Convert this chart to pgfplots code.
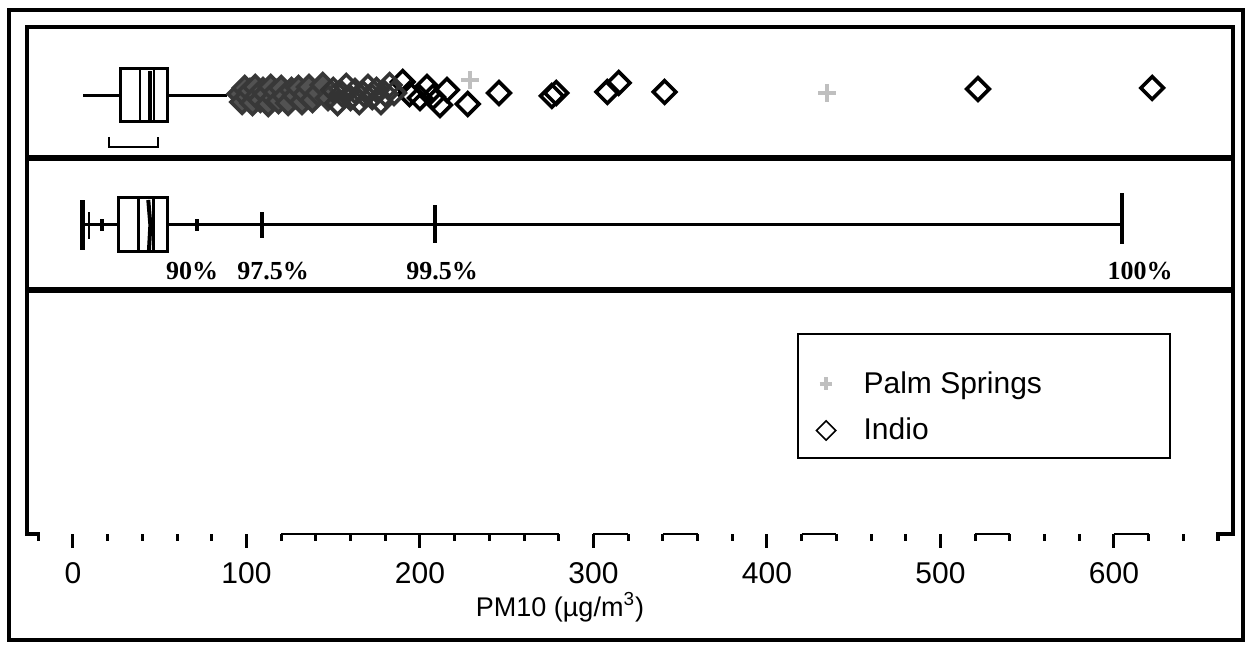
\documentclass[border=0pt]{standalone}
\usepackage{pgfplots}
\pgfplotsset{compat=1.18}
\usepackage{fontspec}
\setmainfont{Liberation Sans}
\newfontfamily\pctfont{Liberation Serif}

\begin{document}
\begin{tikzpicture}
\begin{axis}[
  scale only axis,
  width=603pt, height=253.5pt,
  xmin=-26.5, xmax=668.6,
  ymin=0, ymax=507,
  clip=false,
  axis x line*=bottom, axis y line=none,
  x axis line style={draw=none},
  xtick={0,100,...,600},
  minor xtick={-20,20,40,60,80,120,140,160,180,220,240,260,280,320,340,360,380,420,440,460,480,520,540,560,580,620,640,660},
  tick align=outside,
  major tick length=7pt, minor tick length=3.5pt,
  tick style={black, line width=1.5pt},
  /pgf/number format/assume math mode=true,
  xticklabel style={font=\fontsize{15}{18}\selectfont, yshift=-4pt},
  legend cell align=left,
  legend style={draw=none, fill=none, at={(axis cs:424.8,171)}, anchor=north west,
    font=\fontsize{15}{18}\selectfont, row sep=7pt},
]

% ---------- outliers (top panel) ----------
\addplot[only marks, mark=+, color=black!25, mark size=4.5pt, line width=2.4pt,
  legend image code/.code={\draw[mark=+, black!25, line width=1.8pt, mark size=3.2pt] plot coordinates {(0.3cm,0cm)};}]
  coordinates {(228.8,454) (434.6,441)};
\addlegendentry{\hspace{12pt}Palm Springs}

\addplot[only marks, mark=square, mark options={rotate=45}, color=black, mark size=4pt, line width=1.8pt,
  legend image code/.code={\draw[mark=square, mark options={rotate=45}, black, line width=0.8pt, mark size=3.4pt] plot coordinates {(0.3cm,0cm)};}]
  coordinates {(190,452) (194,440) (200,436) (204,447) (207.5,437) (211.5,429) (215.5,444) (227.5,430)
               (245.5,441) (276,438) (278.5,441) (308,442) (314.5,451) (341,442) (521.6,445) (622,446)};
\addlegendentry{\hspace{12pt}Indio}

% dense run of Indio values between ~95 and ~150
\addplot[only marks, forget plot, mark=square*, mark options={rotate=45, draw=black!78, fill=black!68}, mark size=4pt, line width=1.8pt]
  coordinates {(96,440) (97.5,432) (99,446) (100.5,437) (102,443) (103.5,431) (105,447) (106.5,438) (108,434)
               (109.5,444) (111,440) (112.5,430) (114,447) (115.5,436) (117,442) (118.5,433) (120,446)
               (122,438) (124,431) (126,444) (128,438) (130,446) (132,432) (134,440) (136,447) (138,434)
               (141,441) (144,449) (147,436)};
% sparser run between ~150 and ~185
\addplot[only marks, forget plot, mark=square, mark options={rotate=45}, color=black!80, mark size=4pt, line width=1.8pt]
  coordinates {(150,444) (152.5,431) (155,440) (157.5,448) (160,436) (162.5,443) (165,432) (167.5,440)
               (170,447) (172.5,437) (175,444) (177.5,432) (180,440) (182.5,449) (185,441)};

% ---------- box plot (top panel) ----------
\addplot[black, line width=1.5pt, forget plot] coordinates {(5.8,438) (27.1,438)};
\addplot[black, line width=1.5pt, forget plot] coordinates {(54.2,438) (89,438)};
\addplot[black, line width=1.5pt, forget plot, fill=white] coordinates {(27.1,412) (54.2,412) (54.2,465) (27.1,465)} -- cycle;
\addplot[black, line width=1.2pt, forget plot] coordinates {(38.6,412) (38.6,465)};
\addplot[black, line width=1.2pt, forget plot] coordinates {(46.7,412) (46.7,465)};
\addplot[black, line width=2pt, forget plot] coordinates {(45.4,461) (44.2,461) (44.2,416) (45.4,416)};
\addplot[black, line width=1.2pt, forget plot] coordinates {(20.7,397) (20.7,387) (49,387) (49,397)};

% ---------- percentile plot (middle panel) ----------
\addplot[black, line width=1.5pt, forget plot] coordinates {(5.8,309) (27.1,309)};
\addplot[black, line width=1.5pt, forget plot] coordinates {(54.2,309) (604.6,309)};
\addplot[black, line width=1.5pt, forget plot] coordinates {(26.5,282) (54.2,282) (54.2,336) (26.5,336)} -- cycle;
\addplot[black, line width=1.3pt, forget plot] coordinates {(37.6,282) (37.6,336)};
\addplot[black, line width=1.2pt, forget plot] coordinates {(46.4,282) (46.4,336)};
\addplot[black, line width=2pt, forget plot] coordinates {(43.4,334) (44.6,309) (43.8,284)};
\addplot[black, line width=2.5pt, forget plot] coordinates {(5.5,284) (5.5,334)};
\addplot[black, line width=1.4pt, forget plot] coordinates {(9.2,295) (9.2,322)};
\addplot[black, line width=1.6pt, forget plot] coordinates {(16.7,303) (16.7,315)};
\addplot[black, line width=1.6pt, forget plot] coordinates {(71.5,303) (71.5,315)};
\addplot[black, line width=1.6pt, forget plot] coordinates {(108.9,296) (108.9,322)};
\addplot[black, line width=1.6pt, forget plot] coordinates {(208.6,291) (208.6,329)};
\addplot[black, line width=1.6pt, forget plot] coordinates {(604.6,290) (604.6,341)};

\node[font=\pctfont\bfseries\fontsize{13}{16}\selectfont] at (axis cs:68.6,263) {90\%};
\node[font=\pctfont\bfseries\fontsize{13}{16}\selectfont] at (axis cs:115.3,263) {97.5\%};
\node[font=\pctfont\bfseries\fontsize{13}{16}\selectfont] at (axis cs:212.7,263) {99.5\%};
\node[font=\pctfont\bfseries\fontsize{13}{16}\selectfont] at (axis cs:615,263) {100\%};

% ---------- frames ----------
\draw[line width=1.7pt] (axis cs:-20,-7) -- (axis cs:-20,0) -- (axis cs:-26.5,0) -- (axis cs:-26.5,507)
  -- (axis cs:668.6,507) -- (axis cs:668.6,0) -- (axis cs:660,0) -- (axis cs:660,-7);
\draw[line width=3pt] (axis cs:-26.5,376) -- (axis cs:668.6,376);
\draw[line width=3pt] (axis cs:-26.5,244) -- (axis cs:668.6,244);
\draw[line width=1.2pt] (axis cs:120,0) -- (axis cs:280,0);
\draw[line width=1.2pt] (axis cs:300,0) -- (axis cs:320,0);
\draw[line width=1.2pt] (axis cs:340,0) -- (axis cs:360,0);
\draw[line width=1.2pt] (axis cs:420,0) -- (axis cs:440,0);
\draw[line width=1.2pt] (axis cs:520,0) -- (axis cs:540,0);
\draw[line width=1.2pt] (axis cs:600,0) -- (axis cs:620,0);
\draw[line width=1pt] (axis cs:417.9,200) rectangle (axis cs:632.3,76);
\draw[line width=2pt] (axis cs:-36.9,524) rectangle (axis cs:674.4,-106);
\path (axis cs:-42.07,534) rectangle (axis cs:676.1,-112);

\node[font=\fontsize{13.5}{16}\selectfont] at (axis cs:280.7,-73) {PM10 (µg/m\textsuperscript{3})};
\end{axis}
\end{tikzpicture}
\end{document}
